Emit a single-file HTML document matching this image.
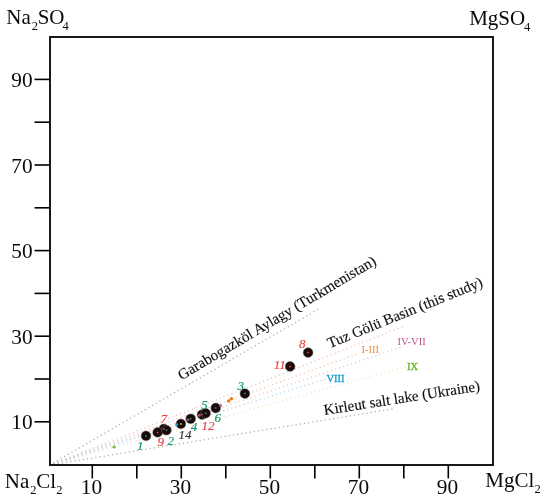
<!DOCTYPE html><html><head><meta charset="utf-8"><style>html,body{margin:0;padding:0;background:#fff;}svg{display:block}text{font-family:"Liberation Serif",serif;}.ax{font-size:21.3px;fill:#0a0a0a}.ch{font-size:21px;fill:#0a0a0a}.sub{font-size:12.5px}.lab{font-size:13px;font-style:italic;stroke-width:0.15px}.g{fill:#13996b;stroke:#13996b}.r{fill:#e8423f;stroke:#e8423f}.k{fill:#333;stroke:#333}.rl{font-size:15px;fill:#111;stroke:#111;stroke-width:0.15px}.rn{font-size:10.5px}</style></head><body>
<svg width="550" height="501" viewBox="0 0 550 501">
<line x1="50" y1="465" x2="317.6" y2="309.6" stroke="#b0b0b0" stroke-width="1.45" stroke-linecap="round" stroke-dasharray="0.01 4.229"/>
<line x1="50" y1="465" x2="402.2" y2="326.9" stroke="#eaaaaa" stroke-width="1.45" stroke-linecap="round" stroke-dasharray="0.01 4.240" stroke-opacity="0.7"/>
<line x1="50" y1="465" x2="360" y2="353" stroke="#eab898" stroke-width="1.45" stroke-linecap="round" stroke-dasharray="0.01 4.216" stroke-opacity="0.7"/>
<line x1="50" y1="465" x2="400" y2="347.5" stroke="#d8b0c0" stroke-width="1.45" stroke-linecap="round" stroke-dasharray="0.01 4.233" stroke-opacity="0.7"/>
<line x1="50" y1="465" x2="325" y2="379.2" stroke="#98cce6" stroke-width="1.45" stroke-linecap="round" stroke-dasharray="0.01 4.226" stroke-opacity="0.7"/>
<line x1="50" y1="465" x2="405" y2="367" stroke="#e2dcb4" stroke-width="1.45" stroke-linecap="round" stroke-dasharray="0.01 4.223" stroke-opacity="0.7"/>
<line x1="50" y1="465" x2="392" y2="409" stroke="#b0b0b0" stroke-width="1.45" stroke-linecap="round" stroke-dasharray="0.01 4.216"/>
<rect x="50" y="37" width="443" height="428" fill="none" stroke="#000" stroke-width="1.8"/>
<line x1="34.5" y1="421.8" x2="50" y2="421.8" stroke="#000" stroke-width="1.6"/>
<line x1="92.3" y1="465" x2="92.3" y2="478.4" stroke="#000" stroke-width="1.6"/>
<line x1="34.5" y1="379.0" x2="50" y2="379.0" stroke="#000" stroke-width="1.6"/>
<line x1="136.8" y1="465" x2="136.8" y2="478.4" stroke="#000" stroke-width="1.6"/>
<line x1="34.5" y1="336.2" x2="50" y2="336.2" stroke="#000" stroke-width="1.6"/>
<line x1="181.3" y1="465" x2="181.3" y2="478.4" stroke="#000" stroke-width="1.6"/>
<line x1="34.5" y1="293.4" x2="50" y2="293.4" stroke="#000" stroke-width="1.6"/>
<line x1="225.8" y1="465" x2="225.8" y2="478.4" stroke="#000" stroke-width="1.6"/>
<line x1="34.5" y1="250.6" x2="50" y2="250.6" stroke="#000" stroke-width="1.6"/>
<line x1="270.3" y1="465" x2="270.3" y2="478.4" stroke="#000" stroke-width="1.6"/>
<line x1="34.5" y1="207.8" x2="50" y2="207.8" stroke="#000" stroke-width="1.6"/>
<line x1="314.8" y1="465" x2="314.8" y2="478.4" stroke="#000" stroke-width="1.6"/>
<line x1="34.5" y1="165.0" x2="50" y2="165.0" stroke="#000" stroke-width="1.6"/>
<line x1="359.3" y1="465" x2="359.3" y2="478.4" stroke="#000" stroke-width="1.6"/>
<line x1="34.5" y1="122.2" x2="50" y2="122.2" stroke="#000" stroke-width="1.6"/>
<line x1="403.8" y1="465" x2="403.8" y2="478.4" stroke="#000" stroke-width="1.6"/>
<line x1="34.5" y1="79.4" x2="50" y2="79.4" stroke="#000" stroke-width="1.6"/>
<line x1="448.3" y1="465" x2="448.3" y2="478.4" stroke="#000" stroke-width="1.6"/>
<text class="ax" x="32.6" y="429.4" text-anchor="end">10</text>
<text class="ax" x="91.5" y="494" text-anchor="middle">10</text>
<text class="ax" x="32.6" y="343.8" text-anchor="end">30</text>
<text class="ax" x="180.5" y="494" text-anchor="middle">30</text>
<text class="ax" x="32.6" y="258.2" text-anchor="end">50</text>
<text class="ax" x="269.5" y="494" text-anchor="middle">50</text>
<text class="ax" x="32.6" y="172.6" text-anchor="end">70</text>
<text class="ax" x="358.5" y="494" text-anchor="middle">70</text>
<text class="ax" x="32.6" y="87.0" text-anchor="end">90</text>
<text class="ax" x="447.5" y="494" text-anchor="middle">90</text>
<text class="ch" x="6.3" y="23.8">Na<tspan class="sub" dx="0.9" dy="6">2</tspan><tspan dx="-0.3" dy="-6">SO</tspan><tspan class="sub" dx="-2" dy="6">4</tspan></text>
<text class="ch" x="469.2" y="24.5">MgSO<tspan class="sub" dx="-1.3" dy="6">4</tspan></text>
<text class="ch" x="4.8" y="487.8">Na<tspan class="sub" dx="0.9" dy="6">2</tspan><tspan dx="-0.3" dy="-6">Cl</tspan><tspan class="sub" dx="0.3" dy="6">2</tspan></text>
<text class="ch" x="485.3" y="486.9">MgCl<tspan class="sub" dx="0.3" dy="6">2</tspan></text>
<text class="rl" style="font-size:15.12px" transform="translate(181.4,380.4) rotate(-30.75)">Garabogazköl Aylagy (Turkmenistan)</text>
<text class="rl" transform="translate(329.7,348.2) rotate(-22)">Tuz Gölü Basin (this study)</text>
<text class="rl" transform="translate(324.5,415) rotate(-8.9)">Kirleut salt lake (Ukraine)</text>
<text class="rn" x="361.5" y="353.3" fill="#f08a3c">I-III</text>
<text class="rn" x="397.5" y="345.3" fill="#b8568a">IV-VII</text>
<text class="rn" x="326.5" y="381.8" fill="#1a9fd0" stroke="#1a9fd0" stroke-width="0.35">VIII</text>
<text class="rn" x="406.9" y="369.6" fill="#6ab82a" stroke="#6ab82a" stroke-width="0.35">IX</text>
<circle cx="114" cy="447" r="1.6" fill="#6ab82a"/>
<circle cx="228.6" cy="401.1" r="1.75" fill="#ea7a1a"/>
<circle cx="231.4" cy="398.8" r="1.75" fill="#ea7a1a"/>
<circle cx="163.8" cy="428.9" r="4.9" fill="#120808" stroke="#7a7070" stroke-width="0.5"/>
<circle cx="163.8" cy="428.9" r="2.9" fill="none" stroke="#2c0e0e" stroke-width="0.7"/>
<circle cx="146.0" cy="435.9" r="4.9" fill="#120808" stroke="#7a7070" stroke-width="0.5"/>
<circle cx="146.0" cy="435.9" r="2.9" fill="none" stroke="#2c0e0e" stroke-width="0.7"/>
<circle cx="157.6" cy="432.4" r="4.9" fill="#120808" stroke="#7a7070" stroke-width="0.5"/>
<circle cx="157.6" cy="432.4" r="2.9" fill="none" stroke="#2c0e0e" stroke-width="0.7"/>
<circle cx="166.4" cy="430.2" r="4.9" fill="#120808" stroke="#7a7070" stroke-width="0.5"/>
<circle cx="166.4" cy="430.2" r="2.9" fill="none" stroke="#2c0e0e" stroke-width="0.7"/>
<circle cx="180.9" cy="423.9" r="4.9" fill="#120808" stroke="#7a7070" stroke-width="0.5"/>
<circle cx="180.9" cy="423.9" r="2.9" fill="none" stroke="#2c0e0e" stroke-width="0.7"/>
<circle cx="190.7" cy="418.8" r="4.9" fill="#120808" stroke="#7a7070" stroke-width="0.5"/>
<circle cx="190.7" cy="418.8" r="2.9" fill="none" stroke="#2c0e0e" stroke-width="0.7"/>
<circle cx="202.0" cy="414.6" r="4.9" fill="#120808" stroke="#7a7070" stroke-width="0.5"/>
<circle cx="202.0" cy="414.6" r="2.9" fill="none" stroke="#2c0e0e" stroke-width="0.7"/>
<circle cx="205.6" cy="413.3" r="4.9" fill="#120808" stroke="#7a7070" stroke-width="0.5"/>
<circle cx="205.6" cy="413.3" r="2.9" fill="none" stroke="#2c0e0e" stroke-width="0.7"/>
<circle cx="215.7" cy="408.0" r="4.9" fill="#120808" stroke="#7a7070" stroke-width="0.5"/>
<circle cx="215.7" cy="408.0" r="2.9" fill="none" stroke="#2c0e0e" stroke-width="0.7"/>
<circle cx="244.9" cy="393.6" r="4.9" fill="#120808" stroke="#7a7070" stroke-width="0.5"/>
<circle cx="244.9" cy="393.6" r="2.9" fill="none" stroke="#2c0e0e" stroke-width="0.7"/>
<circle cx="290.1" cy="366.5" r="4.9" fill="#120808" stroke="#7a7070" stroke-width="0.5"/>
<circle cx="290.1" cy="366.5" r="2.9" fill="none" stroke="#2c0e0e" stroke-width="0.7"/>
<circle cx="308.1" cy="352.6" r="4.9" fill="#120808" stroke="#7a7070" stroke-width="0.5"/>
<circle cx="308.1" cy="352.6" r="2.9" fill="none" stroke="#2c0e0e" stroke-width="0.7"/>
<circle cx="163.8" cy="428.9" r="1.0" fill="#d84040"/>
<circle cx="146.0" cy="435.9" r="1.0" fill="#18905e"/>
<circle cx="157.6" cy="432.4" r="1.0" fill="#d84040"/>
<circle cx="166.4" cy="430.2" r="1.0" fill="#18905e"/>
<circle cx="176.8" cy="424.7" r="1.45" fill="#1a9fd0"/>
<circle cx="180.9" cy="423.9" r="1.0" fill="#d8c020"/>
<circle cx="188.0" cy="419.9" r="1.45" fill="#a8508a"/>
<circle cx="190.7" cy="418.8" r="1.0" fill="#18905e"/>
<circle cx="199.3" cy="415.4" r="1.45" fill="#a8508a"/>
<circle cx="202.0" cy="414.6" r="1.0" fill="#d84040"/>
<circle cx="205.6" cy="413.3" r="1.0" fill="#18905e"/>
<circle cx="220.4" cy="405.8" r="1.45" fill="#a8508a"/>
<circle cx="215.7" cy="408.0" r="1.0" fill="#18905e"/>
<circle cx="244.9" cy="393.6" r="1.0" fill="#18905e"/>
<circle cx="290.1" cy="366.5" r="1.0" fill="#d84040"/>
<circle cx="308.1" cy="352.6" r="1.0" fill="#d84040"/>
<text class="lab g" x="137.0" y="449.7">1</text>
<text class="lab r" x="157.6" y="446.4">9</text>
<text class="lab g" x="167.6" y="444.5">2</text>
<text class="lab r" x="160.6" y="423.1">7</text>
<text class="lab k" x="178.6" y="438.6">14</text>
<text class="lab g" x="190.8" y="431.0">4</text>
<text class="lab r" x="201.5" y="430.2">12</text>
<text class="lab g" x="201.2" y="409.2">5</text>
<text class="lab g" x="214.5" y="422.2">6</text>
<text class="lab g" x="237.5" y="390.4">3</text>
<text class="lab r" x="273.8" y="368.7">11</text>
<text class="lab r" x="299.0" y="347.5">8</text>
</svg></body></html>
